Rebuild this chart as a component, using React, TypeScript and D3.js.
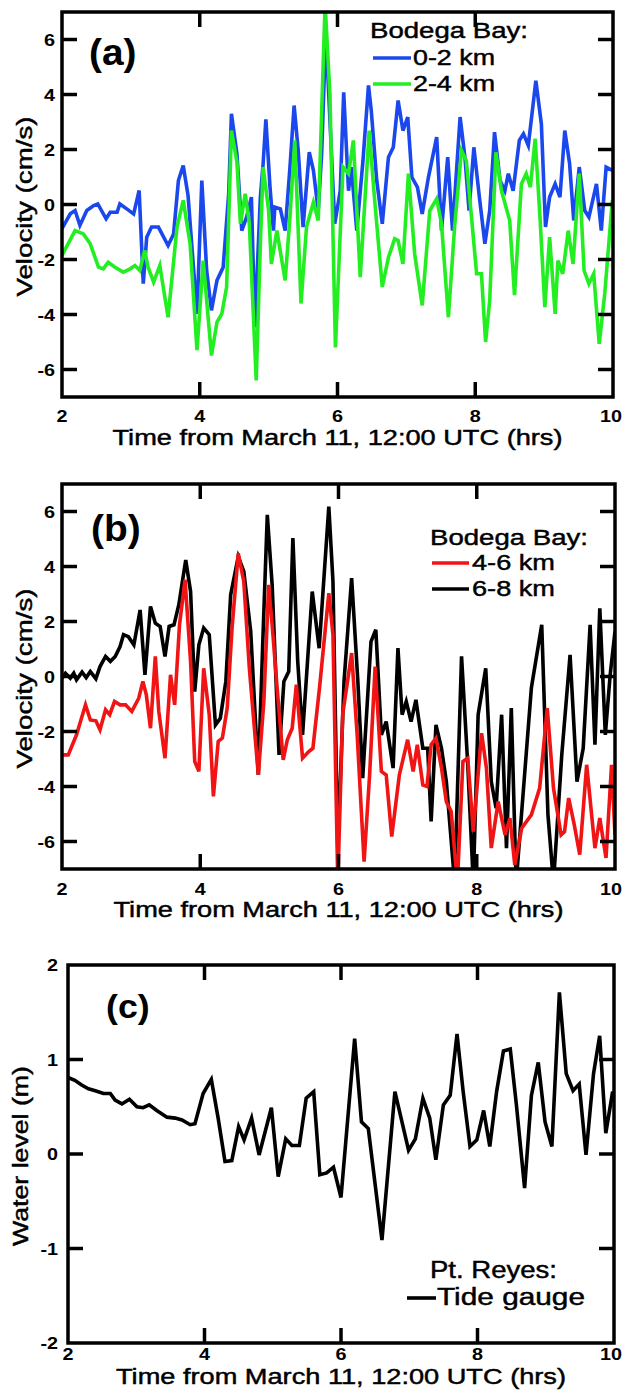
import React from 'react';
import * as d3 from 'd3';

type Pt = [number, number];

// ---------- data ----------
const xTickVals = [2, 4, 6, 8, 10];
const velTickVals = [6, 4, 2, 0, -2, -4, -6];
const levelTickVals = [2, 1, 0, -1, -2];
const xTitle = 'Time from March 11, 12:00 UTC (hrs)';

const bodega02: Pt[] = [[2.0,-0.88],[2.12,-0.34],[2.19,-0.22],[2.26,-0.76],[2.36,-0.22],[2.46,-0.04],[2.52,0.02],[2.64,-0.52],[2.70,-0.28],[2.80,-0.28],[2.84,0.02],[2.94,-0.16],[3.04,-0.34],[3.12,0.51],[3.18,-2.88],[3.23,-1.19],[3.30,-0.82],[3.40,-0.82],[3.54,-1.49],[3.62,-1.07],[3.69,0.87],[3.76,1.42],[3.83,0.33],[3.96,-3.98],[4.03,0.87],[4.10,-2.4],[4.17,-3.85],[4.25,-2.76],[4.34,-2.28],[4.42,0.39],[4.46,3.3],[4.54,1.84],[4.61,-0.95],[4.68,-0.46],[4.75,0.27],[4.80,-4.46],[4.88,0.27],[4.92,1.48],[4.96,3.1],[5.02,0.63],[5.07,-0.95],[5.09,-0.1],[5.17,-0.16],[5.24,-0.95],[5.31,1.36],[5.37,3.6],[5.43,1.96],[5.50,-0.82],[5.59,1.9],[5.65,1.24],[5.72,-0.22],[5.77,1.84],[5.83,6.3],[5.96,-0.7],[6.04,0.5],[6.09,4.08],[6.16,0.5],[6.2,1.36],[6.28,-0.95],[6.37,1.6],[6.45,4.33],[6.49,3.42],[6.57,0.87],[6.65,-0.7],[6.74,1.72],[6.81,2.08],[6.88,3.78],[6.95,2.69],[7.02,3.18],[7.08,0.99],[7.16,0.63],[7.23,-0.34],[7.32,0.99],[7.44,2.45],[7.51,-0.95],[7.6,1.72],[7.67,-0.95],[7.78,3.18],[7.85,1.72],[7.91,-0.22],[7.98,2.08],[8.06,0.27],[8.14,-1.43],[8.21,-0.22],[8.28,2.63],[8.36,0.87],[8.43,0.5],[8.48,1.12],[8.55,0.5],[8.64,2.33],[8.7,2.57],[8.77,2.15],[8.88,4.5],[8.96,2.93],[9.02,-0.82],[9.08,0.27],[9.16,0.75],[9.23,0.27],[9.3,2.69],[9.37,1.48],[9.43,-0.58],[9.51,1.36],[9.59,-0.22],[9.65,-0.46],[9.76,0.75],[9.83,-0.95],[9.9,1.36],[9.99,1.24]];

const bodega24: Pt[] = [[2.0,-1.85],[2.19,-0.95],[2.31,-1.07],[2.41,-1.43],[2.53,-2.28],[2.6,-2.34],[2.67,-2.1],[2.77,-2.28],[2.89,-2.46],[2.99,-2.34],[3.06,-2.22],[3.13,-2.4],[3.2,-1.67],[3.25,-2.28],[3.33,-2.82],[3.42,-2.22],[3.54,-4.1],[3.67,-0.82],[3.76,0.15],[3.86,-1.43],[3.96,-5.3],[4.05,-2.04],[4.17,-5.49],[4.25,-4.28],[4.32,-3.98],[4.39,-3.0],[4.46,2.69],[4.54,1.54],[4.59,-0.7],[4.66,0.39],[4.72,-0.7],[4.82,-6.4],[4.88,-1.43],[4.92,1.36],[5.0,-0.22],[5.04,-2.16],[5.12,-0.95],[5.24,-2.76],[5.31,-0.46],[5.38,2.33],[5.47,-3.6],[5.55,-0.82],[5.65,0.08],[5.72,-0.58],[5.82,7.3],[5.89,4.0],[5.97,-5.2],[6.08,1.36],[6.16,1.12],[6.23,2.33],[6.33,-2.64],[6.46,2.69],[6.54,0.15],[6.65,-3.0],[6.74,-1.92],[6.83,-1.25],[6.88,-1.31],[6.95,-2.16],[7.03,1.12],[7.12,-1.79],[7.23,-3.67],[7.34,-0.22],[7.44,0.21],[7.51,-0.7],[7.61,-4.1],[7.7,-0.82],[7.8,1.96],[7.87,1.6],[7.95,-0.58],[8.02,-2.52],[8.09,-2.52],[8.15,-5.0],[8.21,-3.49],[8.3,1.9],[8.38,0.5],[8.5,-0.58],[8.57,-3.3],[8.67,0.75],[8.74,1.12],[8.8,0.63],[8.87,2.39],[8.94,-0.46],[9.01,-3.73],[9.08,-1.19],[9.16,-3.98],[9.2,-2.04],[9.27,-2.52],[9.35,-0.95],[9.42,-2.16],[9.51,1.12],[9.58,-2.4],[9.65,-2.88],[9.72,-2.52],[9.8,-5.07],[9.88,-3.25],[9.99,0.15]];

const bodega68: Pt[] = [[2.0,-0.06],[2.05,0.12],[2.12,-0.06],[2.17,0.12],[2.21,-0.12],[2.29,0.16],[2.35,-0.04],[2.41,0.18],[2.49,-0.08],[2.55,0.36],[2.63,0.73],[2.7,0.55],[2.77,0.73],[2.84,1.09],[2.89,1.52],[2.96,1.45],[3.04,1.15],[3.13,2.42],[3.2,0.06],[3.28,2.55],[3.35,1.94],[3.42,1.82],[3.49,0.73],[3.55,1.82],[3.62,1.88],[3.69,2.61],[3.79,4.24],[3.86,3.09],[3.92,-0.55],[3.98,1.15],[4.05,1.76],[4.13,1.52],[4.22,-1.76],[4.29,-1.52],[4.37,-0.18],[4.44,2.97],[4.55,4.36],[4.63,3.82],[4.73,1.64],[4.84,-3.58],[4.91,1.64],[4.97,5.88],[5.04,3.33],[5.14,-2.85],[5.21,-0.18],[5.28,0.18],[5.34,5.03],[5.41,0.55],[5.48,-2.12],[5.62,3.09],[5.72,1.03],[5.86,6.18],[5.92,3.45],[5.99,-6.3],[6.08,-0.18],[6.19,3.58],[6.28,-0.18],[6.35,-3.7],[6.47,1.27],[6.54,1.7],[6.62,-2.12],[6.69,-1.64],[6.79,-3.33],[6.86,1.03],[6.92,-1.39],[6.98,-0.91],[7.05,-1.64],[7.12,-0.85],[7.22,-2.61],[7.29,-2.61],[7.34,-5.27],[7.41,-1.76],[7.49,-2.61],[7.56,-3.82],[7.68,-7.5],[7.78,0.73],[7.87,-3.21],[7.95,-7.5],[8.02,-1.39],[8.13,0.3],[8.21,-3.82],[8.28,-4.79],[8.36,-1.39],[8.43,-6.24],[8.5,-1.15],[8.57,-7.5],[8.79,-0.42],[8.94,1.88],[9.03,-5.03],[9.11,-7.5],[9.23,-2.85],[9.35,0.79],[9.45,-3.82],[9.54,-2.61],[9.64,1.88],[9.71,-2.48],[9.78,2.48],[9.86,-2.12],[9.93,0.06],[10.0,1.64]];

const bodega46: Pt[] = [[2.0,-2.85],[2.09,-2.85],[2.21,-2.12],[2.34,-1.03],[2.41,-1.58],[2.49,-1.61],[2.55,-1.94],[2.63,-1.21],[2.69,-1.39],[2.76,-0.91],[2.84,-1.03],[2.92,-1.03],[3.01,-1.27],[3.11,-0.79],[3.17,-0.18],[3.22,-0.67],[3.28,-1.88],[3.35,0.73],[3.4,-1.27],[3.49,-2.97],[3.57,0.06],[3.63,-1.03],[3.7,1.88],[3.78,3.52],[3.86,0.55],[3.92,-3.09],[3.98,-3.45],[4.05,0.3],[4.13,-1.39],[4.19,-4.36],[4.26,-2.36],[4.32,-2.24],[4.39,-1.15],[4.46,1.76],[4.55,4.48],[4.63,3.45],[4.71,0.3],[4.84,-3.58],[4.92,-0.91],[4.99,3.33],[5.04,1.88],[5.12,-0.67],[5.2,-3.03],[5.26,-2.3],[5.33,-1.88],[5.39,-0.3],[5.48,-2.97],[5.57,-2.73],[5.63,-2.61],[5.73,-0.3],[5.86,3.03],[5.92,1.52],[5.99,-7.5],[6.06,-1.39],[6.19,0.85],[6.27,-2.12],[6.37,-6.73],[6.45,-3.58],[6.53,0.36],[6.62,-3.45],[6.69,-3.58],[6.77,-5.82],[6.88,-3.58],[7.0,-2.3],[7.08,-3.45],[7.14,-2.48],[7.22,-3.94],[7.28,-4.0],[7.34,-2.48],[7.41,-2.24],[7.49,-3.33],[7.56,-4.55],[7.63,-4.91],[7.72,-7.5],[7.8,-3.09],[7.87,-2.97],[7.95,-5.64],[8.07,-2.06],[8.14,-3.33],[8.21,-6.24],[8.31,-4.55],[8.41,-5.76],[8.48,-5.15],[8.55,-6.85],[8.65,-5.52],[8.79,-5.03],[8.91,-4.06],[9.02,-1.15],[9.11,-4.06],[9.22,-5.76],[9.27,-5.64],[9.33,-4.42],[9.41,-5.39],[9.49,-6.48],[9.59,-3.21],[9.71,-6.24],[9.78,-5.15],[9.87,-6.6],[9.95,-3.21],[10.0,-5.76]];

const tideGauge: Pt[] = [[2.0,0.81],[2.1,0.78],[2.2,0.73],[2.3,0.69],[2.4,0.67],[2.52,0.64],[2.62,0.64],[2.69,0.57],[2.79,0.53],[2.9,0.58],[3.01,0.5],[3.1,0.49],[3.19,0.52],[3.3,0.46],[3.45,0.39],[3.57,0.38],[3.67,0.36],[3.79,0.31],[3.86,0.32],[3.98,0.64],[4.1,0.79],[4.2,0.38],[4.3,-0.08],[4.4,-0.07],[4.5,0.29],[4.58,0.15],[4.69,0.38],[4.8,-0.01],[4.98,0.49],[5.08,-0.24],[5.19,0.16],[5.28,0.09],[5.39,0.09],[5.49,0.59],[5.6,0.66],[5.69,-0.22],[5.79,-0.2],[5.89,-0.14],[6.0,-0.46],[6.2,1.22],[6.3,0.34],[6.4,0.27],[6.6,-0.91],[6.79,0.66],[6.99,0.04],[7.09,0.16],[7.2,0.59],[7.3,0.38],[7.39,-0.06],[7.5,0.52],[7.6,0.62],[7.7,1.27],[7.79,0.66],[7.89,0.08],[7.99,0.15],[8.09,0.46],[8.18,0.08],[8.28,0.66],[8.38,1.09],[8.48,1.11],[8.57,0.52],[8.69,-0.36],[8.79,0.62],[8.89,0.97],[8.99,0.34],[9.09,0.08],[9.2,1.71],[9.3,0.85],[9.4,0.67],[9.49,0.74],[9.59,-0.01],[9.7,0.85],[9.79,1.25],[9.88,0.22],[9.98,0.66]];

// ---------- styling ----------
const FONT = "'Liberation Sans', Arial, Helvetica, sans-serif";
const BLUE = '#1a48ec';
const GREEN = '#22ee22';
const RED = '#f01414';
const BLACK = '#000000';
const TXT_STROKE = 0.45;

type Series = { name: string; data: Pt[]; color: string };

interface PanelProps {
  id: string;
  x0: number; x1: number; y0: number; y1: number;
  yDomain: [number, number];
  yTicks: number[];
  yLabelRight: number;
  series: Series[];
  drawOrder: number[];
  tag: string; tagX: number; tagY: number; tagSize: number;
  yTitle: string; yTitleX: number; yTitleW: number;
  legendTitle: string; legendX: number; legendTitleY: number; legendTitleW: number;
  legendLineX: [number, number]; legendTextX: number; legendTextW: number[];
  legendRowY: number[]; legendFont: number;
  xLabelY: number; xTitleY: number;
}

function Panel(p: PanelProps) {
  const x = d3.scaleLinear().domain([2, 10]).range([p.x0, p.x1]);
  const y = d3.scaleLinear().domain(p.yDomain).range([p.y1, p.y0]);
  const line = d3.line<Pt>().x(d => x(d[0])).y(d => y(d[1]));
  const tickLen = 15;
  const innerY = p.yTicks.filter(v => v > p.yDomain[0] && v < p.yDomain[1]);
  const innerX = xTickVals.filter(v => v > 2 && v < 10);
  const cx = (p.x0 + p.x1) / 2;
  const cy = (p.y0 + p.y1) / 2;
  return (
    <g>
      <defs>
        <clipPath id={`clip-${p.id}`}>
          <rect x={p.x0} y={p.y0} width={p.x1 - p.x0} height={p.y1 - p.y0} />
        </clipPath>
      </defs>
      <g clipPath={`url(#clip-${p.id})`}>
        {p.drawOrder.map(i => (
          <path key={i} d={line(p.series[i].data) || ''} fill="none" stroke={p.series[i].color}
            strokeWidth={3.6} strokeLinejoin="miter" strokeMiterlimit={4} />
        ))}
      </g>
      <rect x={p.x0} y={p.y0} width={p.x1 - p.x0} height={p.y1 - p.y0} fill="none" stroke="#000" strokeWidth={3.5} />
      {innerX.map(v => (
        <g key={'xt' + v}>
          <line x1={x(v)} x2={x(v)} y1={p.y1} y2={p.y1 - tickLen} stroke="#000" strokeWidth={3.5} />
          <line x1={x(v)} x2={x(v)} y1={p.y0} y2={p.y0 + tickLen} stroke="#000" strokeWidth={3.5} />
        </g>
      ))}
      {innerY.map(v => (
        <g key={'yt' + v}>
          <line x1={p.x0} x2={p.x0 + tickLen} y1={y(v)} y2={y(v)} stroke="#000" strokeWidth={3.5} />
          <line x1={p.x1} x2={p.x1 - tickLen} y1={y(v)} y2={y(v)} stroke="#000" strokeWidth={3.5} />
        </g>
      ))}
      {xTickVals.map(v => (
        <text key={'xl' + v} transform={`translate(${Math.min(x(v), 611)},${p.xLabelY}) scale(1.2,1)`} textAnchor="middle"
          fontFamily={FONT} fontWeight="bold" fontSize={16.5}>{v}</text>
      ))}
      {p.yTicks.map(v => (
        <text key={'yl' + v} transform={`translate(${p.yLabelRight},${y(v) + 6}) scale(1.2,1)`} textAnchor="end"
          fontFamily={FONT} fontWeight="bold" fontSize={16.5}>{v}</text>
      ))}
      <text x={cx} y={p.xTitleY} textAnchor="middle" fontFamily={FONT} fontSize={21.5}
        stroke="#000" strokeWidth={TXT_STROKE}
        textLength={450} lengthAdjust="spacingAndGlyphs">{xTitle}</text>
      <text transform={`translate(${p.yTitleX},${cy + 2}) rotate(-90)`} textAnchor="middle" fontFamily={FONT}
        stroke="#000" strokeWidth={TXT_STROKE}
        fontSize={22} textLength={p.yTitleW} lengthAdjust="spacingAndGlyphs">{p.yTitle}</text>
      <text transform={`translate(${p.tagX},${p.tagY}) scale(1.05,1)`} fontFamily={FONT} fontWeight="bold"
        fontSize={p.tagSize}>{p.tag}</text>
      <text x={p.legendX} y={p.legendTitleY} fontFamily={FONT} fontSize={p.legendFont}
        stroke="#000" strokeWidth={TXT_STROKE}
        textLength={p.legendTitleW} lengthAdjust="spacingAndGlyphs">{p.legendTitle}</text>
      {p.series.map((s, i) => (
        <g key={'lg' + i}>
          <line x1={p.legendLineX[0]} x2={p.legendLineX[1]} y1={p.legendRowY[i]} y2={p.legendRowY[i]}
            stroke={s.color} strokeWidth={3.6} />
          <text x={p.legendTextX} y={p.legendRowY[i] + 7} fontFamily={FONT} fontSize={p.legendFont}
            stroke="#000" strokeWidth={TXT_STROKE}
            textLength={p.legendTextW[i]} lengthAdjust="spacingAndGlyphs">{s.name}</text>
        </g>
      ))}
    </g>
  );
}

export default function App() {
  return (
    <svg width={624} height={1397} viewBox="0 0 624 1397"
      style={{ position: 'absolute', left: 0, top: 0, background: '#fff' }}>
      <rect x={0} y={0} width={624} height={1397} fill="#fff" />
      <Panel id="a" x0={62} x1={613} y0={12} y1={397} yDomain={[-7, 7]} yTicks={velTickVals} yLabelRight={55}
        series={[{ name: '0-2 km', data: bodega02, color: BLUE }, { name: '2-4 km', data: bodega24, color: GREEN }]}
        drawOrder={[0, 1]}
        tag="(a)" tagX={89} tagY={65} tagSize={37}
        yTitle="Velocity (cm/s)" yTitleX={32} yTitleW={180}
        legendTitle="Bodega Bay:" legendX={370} legendTitleY={38} legendTitleW={158}
        legendLineX={[373, 411]} legendTextX={413} legendTextW={[82, 82]}
        legendRowY={[58, 84]} legendFont={22}
        xLabelY={422} xTitleY={445} />
      <Panel id="b" x0={62} x1={615} y0={484} y1={869} yDomain={[-7, 7]} yTicks={velTickVals} yLabelRight={55}
        series={[{ name: '4-6 km', data: bodega46, color: RED }, { name: '6-8 km', data: bodega68, color: BLACK }]}
        drawOrder={[1, 0]}
        tag="(b)" tagX={91} tagY={541} tagSize={37}
        yTitle="Velocity (cm/s)" yTitleX={32} yTitleW={180}
        legendTitle="Bodega Bay:" legendX={430} legendTitleY={545} legendTitleW={158}
        legendLineX={[432, 469]} legendTextX={472} legendTextW={[83, 83]}
        legendRowY={[563, 589]} legendFont={22}
        xLabelY={895} xTitleY={917} />
      <Panel id="c" x0={68} x1={614} y0={965} y1={1343} yDomain={[-2, 2]} yTicks={levelTickVals} yLabelRight={58}
        series={[{ name: 'Tide gauge', data: tideGauge, color: BLACK }]}
        drawOrder={[0]}
        tag="(c)" tagX={106} tagY={1018} tagSize={34}
        yTitle="Water level (m)" yTitleX={28} yTitleW={180}
        legendTitle="Pt. Reyes:" legendX={430} legendTitleY={1278} legendTitleW={127}
        legendLineX={[407, 436]} legendTextX={437} legendTextW={[148]}
        legendRowY={[1298]} legendFont={23}
        xLabelY={1360} xTitleY={1384} />
    </svg>
  );
}
